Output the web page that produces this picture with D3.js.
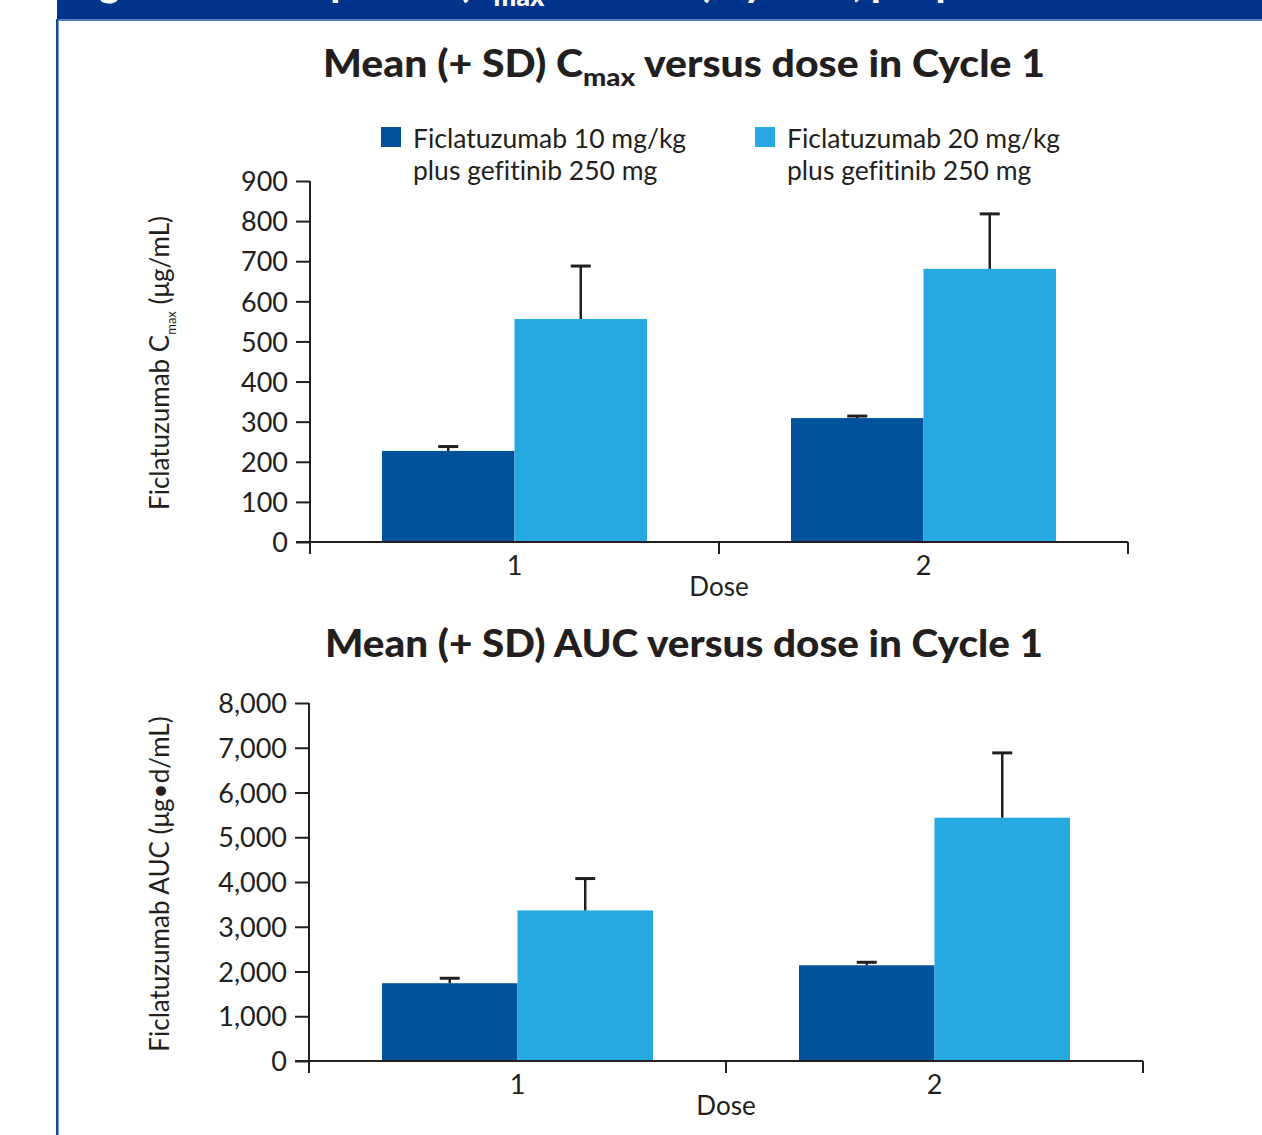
<!DOCTYPE html>
<html><head><meta charset="utf-8">
<script src="https://cdn.jsdelivr.net/npm/d3@7"></script>
<style>
html,body{margin:0;padding:0;background:#fff;}
svg{display:block;}
text{font-family:Lato,"Noto Sans",sans-serif;fill:#231f20;font-variant-ligatures:none;}
</style></head><body>
<svg id="c" width="1262" height="1135"></svg>
<script>
const doses = ["1", "2"];
const seriesNames = ["Ficlatuzumab 10 mg/kg|plus gefitinib 250 mg", "Ficlatuzumab 20 mg/kg|plus gefitinib 250 mg"];
const seriesKeys = ["f10", "f20"];
const cmaxMean = { f10: [227, 309], f20: [556, 681] };
const cmaxSD   = { f10: [11, 5],   f20: [132, 137] };
const aucMean  = { f10: [1738, 2139], f20: [3365, 5437] };
const aucSD    = { f10: [111, 67],    f20: [712, 1448] };
const cmaxTicks = [0,100,200,300,400,500,600,700,800,900];
const aucTicks = [0,1000,2000,3000,4000,5000,6000,7000,8000];
const colors = { f10: "#00539b", f20: "#25a9e0" };

const svg = d3.select("#c");
const ink = "#231f20";

// header band & frame
svg.append("rect").attr("x",57).attr("y",0).attr("width",1262-57).attr("height",19).attr("fill","#00338a");
svg.append("rect").attr("x",57).attr("y",19).attr("width",1262-57).attr("height",2).attr("fill","#5a7fc2");
svg.append("rect").attr("x",56).attr("y",19).attr("width",2.5).attr("height",1135).attr("fill","#0b4aa0");
const hdr = svg.append("text").attr("x",68).attr("y",-3).style("font-weight","900").style("font-size","38px").style("fill","#fff");
hdr.append("tspan").text("Figure 2. Mean plasma (C");
hdr.append("tspan").attr("dy",9).style("font-size","27px").text("max");
hdr.append("tspan").attr("dy",-9).text(" and AUC) by dose, per protocol");

function chart(cfg) {
  const g = svg.append("g");
  const y = d3.scaleLinear().domain([0, cfg.ymax]).range([cfg.y0, cfg.y1]);
  const x = d3.scaleBand().domain(doses).range([cfg.x0, cfg.x1]);
  const bw = x.bandwidth();
  const pad = cfg.pad;
  const xs = d3.scaleBand().domain(seriesKeys).range([pad, bw - pad]);

  // title
  const t = g.append("text").attr("x", cfg.tx).attr("y", cfg.ty).attr("text-anchor","middle")
    .attr("textLength", cfg.tw).attr("lengthAdjust","spacingAndGlyphs")
    .style("font-weight","900").style("font-size","37px");
  cfg.title(t);

  // bars
  seriesKeys.forEach(k => {
    doses.forEach((d, i) => {
      const v = cfg.mean[k][i], sd = cfg.sd[k][i];
      const bx = x(d) + xs(k);
      g.append("rect").attr("x", bx).attr("y", y(v)).attr("width", xs.bandwidth())
        .attr("height", y(0) - y(v)).attr("fill", colors[k]);
      const cx = bx + xs.bandwidth()/2;
      g.append("line").attr("x1",cx).attr("x2",cx).attr("y1",y(v)).attr("y2",y(v+sd))
        .attr("stroke",ink).attr("stroke-width",2.5);
      g.append("line").attr("x1",cx-10).attr("x2",cx+10).attr("y1",y(v+sd)).attr("y2",y(v+sd))
        .attr("stroke",ink).attr("stroke-width",3);
    });
  });

  // y axis
  const ya = g.append("g").attr("transform",`translate(${cfg.x0},0)`)
    .call(d3.axisLeft(y).tickValues(cfg.ticks).tickSize(14).tickPadding(8).tickFormat(d3.format(",")));
  ya.select(".domain").remove();
  ya.selectAll(".tick line").attr("stroke",ink).attr("stroke-width",2);
  ya.selectAll(".tick text").style("font-size","27px").style("font-family","Lato,sans-serif").attr("fill",ink).attr("dy","0.36em");
  g.append("line").attr("x1",cfg.x0).attr("x2",cfg.x0).attr("y1",y(cfg.ymax)).attr("y2",y(0)+12)
    .attr("stroke",ink).attr("stroke-width",2);

  // x axis
  const xa = g.append("g").attr("transform",`translate(0,${y(0)})`)
    .call(d3.axisBottom(x).tickSize(0).tickPadding(14));
  xa.select(".domain").remove();
  xa.selectAll(".tick text").style("font-size","27px").style("font-family","Lato,sans-serif").attr("fill",ink);
  g.append("line").attr("x1",cfg.x0-14).attr("x2",cfg.x1).attr("y1",y(0)).attr("y2",y(0))
    .attr("stroke",ink).attr("stroke-width",2);
  const bounds = [x(doses[0])].concat(doses.map(d => x(d) + bw));
  bounds.forEach(b => g.append("line").attr("x1",b).attr("x2",b).attr("y1",y(0)).attr("y2",y(0)+12)
    .attr("stroke",ink).attr("stroke-width",2));
  g.append("text").attr("x",(cfg.x0+cfg.x1)/2).attr("y",y(0)+54).attr("text-anchor","middle")
    .style("font-size","26px").text("Dose");

  // y label
  const yl = g.append("text").attr("transform",`translate(${cfg.ylx},${cfg.yly}) rotate(-90)`)
    .attr("text-anchor","middle").style("font-size","26px");
  cfg.ylabel(yl);
}

chart({
  ymax: 900, y0: 542, y1: 181, x0: 310, x1: 1128, pad: 72, ticks: cmaxTicks,
  mean: cmaxMean, sd: cmaxSD, tx: 684, ty: 77, tw: 722,
  title: t => { t.append("tspan").text("Mean (+ SD) C"); t.append("tspan").attr("dy",9).style("font-size","25px").text("max"); t.append("tspan").attr("dy",-9).text(" versus dose in Cycle 1"); },
  ylx: 169, yly: 363,
  ylabel: t => { t.append("tspan").text("Ficlatuzumab C"); t.append("tspan").attr("dy",7).style("font-size","13px").text("max"); t.append("tspan").attr("dy",-7).text(" (μg/mL)"); }
});
chart({
  ymax: 8000, y0: 1061, y1: 703, x0: 309, x1: 1143, pad: 73, ticks: aucTicks,
  mean: aucMean, sd: aucSD, tx: 684, ty: 657, tw: 718,
  title: t => { t.text("Mean (+ SD) AUC versus dose in Cycle 1"); },
  ylx: 169, yly: 884,
  ylabel: t => { t.text("Ficlatuzumab AUC (μg•d/mL)"); }
});

// legend
const lg = svg.append("g");
const lx = [381, 755];
seriesKeys.forEach((k, i) => {
  lg.append("rect").attr("x", lx[i]).attr("y", 127).attr("width", 20).attr("height", 20).attr("fill", colors[k]);
  const lines = seriesNames[i].split("|");
  lines.forEach((s, j) => lg.append("text").attr("x", lx[i] + 32).attr("y", 148 + j*32).style("font-size","26.5px").text(s));
});
</script>
</body></html>
